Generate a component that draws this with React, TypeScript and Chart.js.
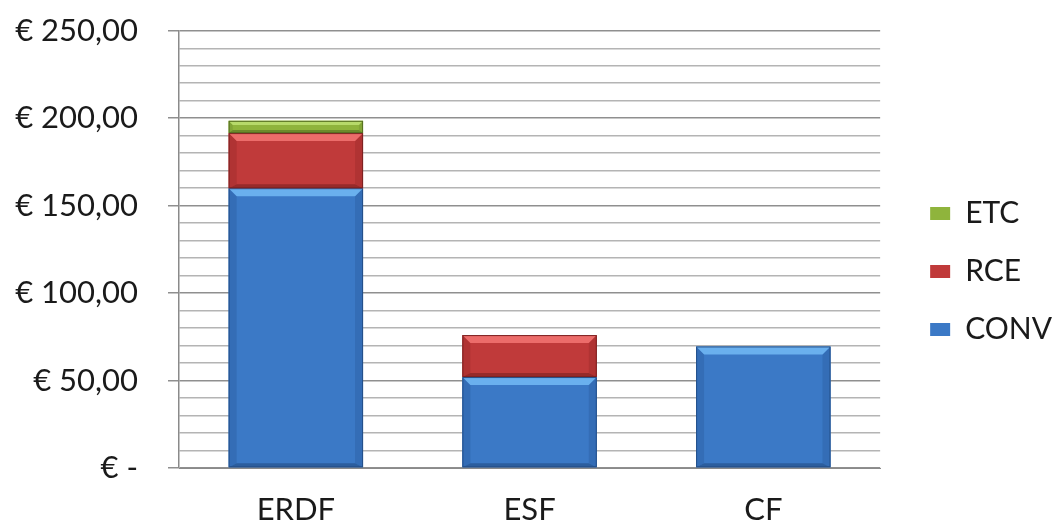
import React, { useEffect, useRef } from 'react';
import { Chart, registerables } from 'chart.js';
Chart.register(...registerables);

const categories = ['ERDF', 'ESF', 'CF'];
const convValues = [160, 52, 69.5];
const rceValues = [31.5, 24, 0];
const etcValues = [7, 0, 0];
const yTickLabels = ['€ -', '€ 50,00', '€ 100,00', '€ 150,00', '€ 200,00', '€ 250,00'];

const FONT = 'Lato, "Open Sans", sans-serif';
const FS = 31;

const shades = [
  { main: '#3b79c6', top: '#6ab0ee', side: '#346db6', bottom: '#2c5e9e', edge: '#24508a' },
  { main: '#c03a3a', top: '#ec6c6a', side: '#b03333', bottom: '#962a2a', edge: '#7c2222' },
  { main: '#8fb43c', top: '#b7da6a', side: '#82a536', bottom: '#6c8a2c', edge: '#566f22' },
];

const bevelPlugin = {
  id: 'bevel',
  afterLayout(chart: any) {
    if (chart.legend) {
      chart.legend.left += 7;
      chart.legend.right += 7;
      chart.legend.top += 10;
      chart.legend.bottom += 10;
    }
  },
  afterDatasetsDraw(chart: any) {
    const ctx = chart.ctx;
    chart.data.datasets.forEach((_ds: any, i: number) => {
      const meta = chart.getDatasetMeta(i);
      if (meta.hidden) return;
      const c = shades[i];
      meta.data.forEach((bar: any) => {
        const { x, y, base, width } = bar.getProps(['x', 'y', 'base', 'width'], true);
        const h = base - y;
        if (h < 1) return;
        const l = x - width / 2, r = x + width / 2, t = y, b = base;
        const bv = Math.min(8, h / 3);
        const bb = Math.min(4, h / 4);
        ctx.save();
        ctx.fillStyle = c.side;
        ctx.beginPath();
        ctx.moveTo(l, t); ctx.lineTo(l + bv, t + bv); ctx.lineTo(l + bv, b - bb); ctx.lineTo(l, b); ctx.closePath(); ctx.fill();
        ctx.beginPath();
        ctx.moveTo(r, t); ctx.lineTo(r - bv, t + bv); ctx.lineTo(r - bv, b - bb); ctx.lineTo(r, b); ctx.closePath(); ctx.fill();
        ctx.fillStyle = c.bottom;
        ctx.beginPath();
        ctx.moveTo(l, b); ctx.lineTo(l + bv, b - bb); ctx.lineTo(r - bv, b - bb); ctx.lineTo(r, b); ctx.closePath(); ctx.fill();
        ctx.fillStyle = c.top;
        ctx.beginPath();
        ctx.moveTo(l, t); ctx.lineTo(r, t); ctx.lineTo(r - bv, t + bv); ctx.lineTo(l + bv, t + bv); ctx.closePath(); ctx.fill();
        ctx.strokeStyle = c.edge;
        ctx.lineWidth = 1;
        ctx.strokeRect(l + 0.5, t + 0.5, width - 1, h - 1);
        ctx.restore();
      });
    });
  },
};

export default function App() {
  const ref = useRef<HTMLCanvasElement | null>(null);
  useEffect(() => {
    if (!ref.current) return;
    const chart = new Chart(ref.current, {
      type: 'bar',
      data: {
        labels: categories,
        datasets: [
          { label: 'CONV', data: convValues, backgroundColor: shades[0].main, borderWidth: 0 },
          { label: 'RCE', data: rceValues, backgroundColor: shades[1].main, borderWidth: 0 },
          { label: 'ETC', data: etcValues, backgroundColor: shades[2].main, borderWidth: 0 },
        ],
      },
      options: {
        responsive: false,
        animation: false,
        layout: { padding: { top: 0, right: 0, left: 0, bottom: 0 } },
        datasets: { bar: { categoryPercentage: 1, barPercentage: 0.575 } },
        plugins: {
          tooltip: { enabled: false },
          legend: {
            position: 'right',
            reverse: true,
            labels: {
              font: { family: FONT, size: 30, lineHeight: 1 },
              color: '#1a1a1a',
              boxWidth: 20,
              boxHeight: 13,
              padding: 28,
            },
          },
        },
        scales: {
          x: {
            stacked: true,
            grid: { display: false, drawTicks: false },
            border: { display: true, color: '#8a8a8a' },
            ticks: { font: { family: FONT, size: FS }, color: '#1a1a1a', padding: 23 },
            afterFit: (s: any) => { s.height = 55; },
          },
          y: {
            stacked: true,
            min: 0,
            max: 250,
            ticks: {
              stepSize: 10,
              autoSkip: false,
              font: { family: FONT, size: FS, lineHeight: 0.05 },
              color: '#1a1a1a',
              padding: 30,
              callback: (v: any) => (Number(v) % 50 === 0 ? yTickLabels[Number(v) / 50] : ''),
            },
            grid: {
              color: (c: any) => (c.tick && c.tick.value % 50 === 0 ? '#8f8f8f' : '#b4b4b4'),
              tickColor: (c: any) => (c.tick && c.tick.value % 50 === 0 ? '#8f8f8f' : 'rgba(0,0,0,0)'),
              tickLength: 11,
              lineWidth: 1.5,
            },
            border: { display: true, color: '#8a8a8a', width: 1.5 },
            afterFit: (s: any) => { s.width = 179; },
          },
          yRight: {
            type: 'linear',
            position: 'right',
            display: true,
            grid: { display: false, drawTicks: false },
            ticks: { display: false },
            border: { display: false },
            afterFit: (s: any) => { s.width = 15; },
          },
        },
      } as any,
      plugins: [bevelPlugin],
    });
    return () => chart.destroy();
  }, []);
  return (
    <div style={{ position: 'fixed', left: 0, top: 0, width: 1055, height: 523, background: '#fff' }}>
      <canvas ref={ref} width={1055} height={523} />
    </div>
  );
}
